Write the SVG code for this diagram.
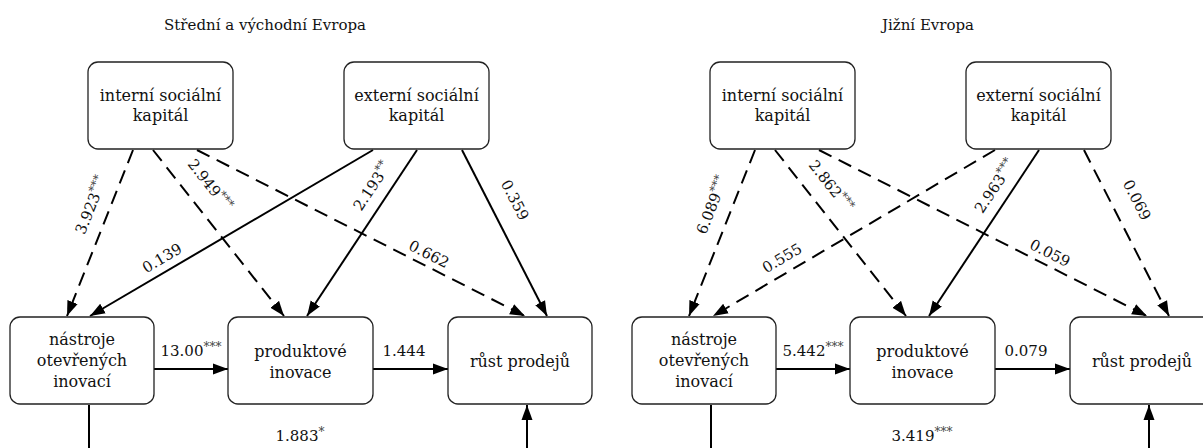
<svg xmlns="http://www.w3.org/2000/svg" width="1203" height="448" viewBox="0 0 1203 448">
  <style>
    text { font-family: "DejaVu Serif", "Liberation Serif", serif; fill: #111; }
    .title { font-size: 15px; text-anchor: middle; }
    .node rect { fill: #fff; stroke: #222; stroke-width: 1.3; }
    .node text { font-size: 16px; text-anchor: middle; }
    .edge { fill: none; stroke: #000; stroke-width: 2; marker-end: url(#arrow); }
    .dash { stroke-dasharray: 14 8; }
    .lbl { font-size: 15px; text-anchor: middle; }
    .sig { font-size: 12px; fill: #444; }
  </style>
  <defs>
    <marker id="arrow" markerUnits="userSpaceOnUse" markerWidth="16" markerHeight="12" refX="15" refY="6" orient="auto">
      <path d="M0,0.5 L15,6 L0,11.5 z" fill="#000" stroke="none"/>
    </marker>
  </defs>
  <rect width="1203" height="448" fill="#fff"/>

  <!-- panel titles -->
  <text class="title" x="265" y="30">Střední a východní Evropa</text>
  <text class="title" x="928" y="30">Jižní Evropa</text>

  <!-- connectors -->
  <g id="connectors">
    <!-- left panel -->
    <path class="edge dash" d="M133,150 L67,316"/>
    <path class="edge dash" d="M153,150 L284,316"/>
    <path class="edge dash" d="M197,150 L525,316"/>
    <path class="edge" d="M373,150 L90,316"/>
    <path class="edge" d="M417,150 L307,316"/>
    <path class="edge" d="M462,150 L547,316"/>
    <path class="edge" d="M154,369 L228,369"/>
    <path class="edge" d="M373,369 L448,369"/>
    <path class="edge" d="M89,405 L89,470 L527,470 L527,405"/>
    <!-- right panel -->
    <path class="edge dash" d="M755,150 L689,316"/>
    <path class="edge dash" d="M775,150 L906,316"/>
    <path class="edge dash" d="M819,150 L1147,316"/>
    <path class="edge dash" d="M995,150 L713,316"/>
    <path class="edge" d="M1039,150 L929,316"/>
    <path class="edge dash" d="M1084,150 L1169,316"/>
    <path class="edge" d="M776,369 L850,369"/>
    <path class="edge" d="M995,369 L1070,369"/>
    <path class="edge" d="M711,405 L711,470 L1149,470 L1149,405"/>

    <!-- coefficient labels, left panel -->
    <text class="lbl" transform="translate(91,205) rotate(-68.3)" dy="0.35em">3.923<tspan class="sig" dy="-5">***</tspan></text>
    <text class="lbl" transform="translate(210,185) rotate(51.7)" dy="0.35em">2.949<tspan class="sig" dy="-5">***</tspan></text>
    <text class="lbl" transform="translate(162,258) rotate(-30.5)" dy="0.35em">0.139</text>
    <text class="lbl" transform="translate(372,186) rotate(-56.6)" dy="0.35em">2.193<tspan class="sig" dy="-5">**</tspan></text>
    <text class="lbl" transform="translate(515,200) rotate(63)" dy="0.35em">0.359</text>
    <text class="lbl" transform="translate(429,254) rotate(27)" dy="0.35em">0.662</text>
    <text class="lbl" x="191" y="356">13.00<tspan class="sig" dy="-5">***</tspan></text>
    <text class="lbl" x="404" y="356">1.444</text>
    <text class="lbl" x="300" y="441">1.883<tspan class="sig" dy="-5">*</tspan></text>

    <!-- coefficient labels, right panel -->
    <text class="lbl" transform="translate(712,205) rotate(-68.7)" dy="0.35em">6.089<tspan class="sig" dy="-5">***</tspan></text>
    <text class="lbl" transform="translate(831,186) rotate(52)" dy="0.35em">2.862<tspan class="sig" dy="-5">***</tspan></text>
    <text class="lbl" transform="translate(782,258) rotate(-30.6)" dy="0.35em">0.555</text>
    <text class="lbl" transform="translate(995,186) rotate(-56.6)" dy="0.35em">2.963<tspan class="sig" dy="-5">***</tspan></text>
    <text class="lbl" transform="translate(1137,200) rotate(62.7)" dy="0.35em">0.069</text>
    <text class="lbl" transform="translate(1050,253) rotate(27)" dy="0.35em">0.059</text>
    <text class="lbl" x="813" y="356">5.442<tspan class="sig" dy="-5">***</tspan></text>
    <text class="lbl" x="1026" y="356">0.079</text>
    <text class="lbl" x="922" y="441">3.419<tspan class="sig" dy="-5">***</tspan></text>
  </g>

  <!-- nodes, left panel -->
  <g id="l-internal" class="node">
    <rect x="88" y="62" width="145" height="87" rx="10"/>
    <text x="160.5" y="101">interní sociální</text>
    <text x="160.5" y="121">kapitál</text>
  </g>
  <g id="l-external" class="node">
    <rect x="344" y="62" width="145" height="87" rx="10"/>
    <text x="416.5" y="101">externí sociální</text>
    <text x="416.5" y="121">kapitál</text>
  </g>
  <g id="l-tools" class="node">
    <rect x="10" y="317" width="144" height="87" rx="10"/>
    <text x="82" y="345">nástroje</text>
    <text x="82" y="366">otevřených</text>
    <text x="82" y="387">inovací</text>
  </g>
  <g id="l-product" class="node">
    <rect x="228" y="317" width="145" height="87" rx="10"/>
    <text x="300.5" y="357">produktové</text>
    <text x="300.5" y="378">inovace</text>
  </g>
  <g id="l-sales" class="node">
    <rect x="448" y="317" width="144" height="87" rx="10"/>
    <text x="520" y="367">růst prodejů</text>
  </g>

  <!-- nodes, right panel -->
  <g id="r-internal" class="node">
    <rect x="710" y="62" width="145" height="87" rx="10"/>
    <text x="782.5" y="101">interní sociální</text>
    <text x="782.5" y="121">kapitál</text>
  </g>
  <g id="r-external" class="node">
    <rect x="966" y="62" width="145" height="87" rx="10"/>
    <text x="1038.5" y="101">externí sociální</text>
    <text x="1038.5" y="121">kapitál</text>
  </g>
  <g id="r-tools" class="node">
    <rect x="632" y="317" width="144" height="87" rx="10"/>
    <text x="704" y="345">nástroje</text>
    <text x="704" y="366">otevřených</text>
    <text x="704" y="387">inovací</text>
  </g>
  <g id="r-product" class="node">
    <rect x="850" y="317" width="145" height="87" rx="10"/>
    <text x="922.5" y="357">produktové</text>
    <text x="922.5" y="378">inovace</text>
  </g>
  <g id="r-sales" class="node">
    <rect x="1070" y="317" width="144" height="87" rx="10"/>
    <text x="1142" y="367">růst prodejů</text>
  </g>
</svg>
